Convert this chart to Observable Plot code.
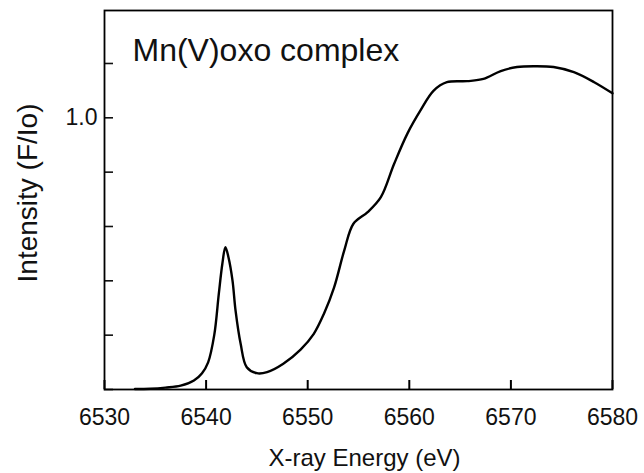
<!DOCTYPE html>
<html>
<head>
<meta charset="utf-8">
<script src="https://cdn.jsdelivr.net/npm/d3@7"></script>
<script src="https://cdn.jsdelivr.net/npm/@observablehq/plot@0.6"></script>
<style>
  html, body { margin: 0; padding: 0; background: #fff; }
  #chart svg { display: block; }
</style>
</head>
<body>
<div id="chart"></div>
<script>
// Mn K-edge XANES spectrum of the Mn(V)-oxo complex
const energy = [6533, 6534.5, 6536, 6537.5, 6538.8, 6539.6, 6540.2, 6540.8, 6541.25, 6541.6,
  6541.9, 6542.2, 6542.6, 6542.9, 6543.4, 6544.0, 6545.0, 6546.0, 6547.6, 6549.3,
  6550.6, 6551.6, 6552.6, 6553.6, 6554.5, 6555.9, 6557.2, 6558.5, 6559.8, 6561.1,
  6562.4, 6563.7, 6565.7, 6567.3, 6569.0, 6570.6, 6572.3, 6574.2, 6576.2, 6578.2, 6580];
const intensity = [0.002, 0.003, 0.007, 0.014, 0.033, 0.06, 0.1, 0.2, 0.352, 0.463,
  0.524, 0.487, 0.401, 0.29, 0.168, 0.082, 0.06, 0.064, 0.095, 0.147,
  0.205, 0.279, 0.376, 0.512, 0.61, 0.653, 0.708, 0.83, 0.941, 1.027,
  1.1, 1.131, 1.135, 1.143, 1.172, 1.187, 1.19, 1.187, 1.168, 1.131, 1.09];

const xTicks = [6530, 6540, 6550, 6560, 6570, 6580];
const yTicks = [0, 0.2, 0.4, 0.6, 0.8, 1.0, 1.2];
const yLabeled = [1.0];

const title = "Mn(V)oxo complex";
const xLabel = "X-ray Energy (eV)";
const yLabel = "Intensity (F/Io)";

const spectrum = energy.map((e, i) => ({energy: e, intensity: intensity[i]}));

const font = "'Liberation Sans', Arial, Helvetica, sans-serif";
const xTickLen = 9;

const chart = Plot.plot({
  width: 644,
  height: 473,
  marginLeft: 104,
  marginRight: 32,
  marginTop: 10,
  marginBottom: 84,
  style: {fontFamily: font, color: "#111", background: "#fff"},
  x: {domain: [6530, 6580]},
  y: {domain: [0, 1.395]},
  marks: [
    // x tick labels below the frame
    Plot.axisX(xTicks, {
      tickSize: 0, tickPadding: 19, fontSize: 23, label: null,
      tickFormat: d => String(d)
    }),
    // inward tick marks along the bottom edge
    Plot.axisX(xTicks, {
      anchor: "bottom", tickSize: xTickLen, text: null, label: null,
      dy: -xTickLen, stroke: "#000", strokeWidth: 2
    }),
    Plot.axisY(yTicks, {
      tickSize: -9, tickPadding: 16, fontSize: 23, label: null,
      tickFormat: d => yLabeled.includes(d) ? d.toFixed(1) : "", strokeWidth: 1.6
    }),
    Plot.line(spectrum, {
      x: "energy", y: "intensity", curve: "catmull-rom",
      stroke: "#000", strokeWidth: 2.4
    }),
    Plot.frame({stroke: "#000", strokeWidth: 1.8}),
    Plot.text([title], {
      frameAnchor: "top-left", dx: 28, dy: 28, textAnchor: "start",
      lineAnchor: "top", fontSize: 32, fill: "#111"
    }),
    Plot.text([xLabel], {
      frameAnchor: "bottom", dx: 6, dy: 69, lineAnchor: "middle",
      fontSize: 24, fill: "#111"
    }),
    Plot.text([yLabel], {
      frameAnchor: "left", dx: -76, dy: -7, rotate: -90,
      textAnchor: "middle", lineAnchor: "middle",
      fontSize: 28, fill: "#111"
    })
  ]
});

document.getElementById("chart").appendChild(chart);
</script>
</body>
</html>
